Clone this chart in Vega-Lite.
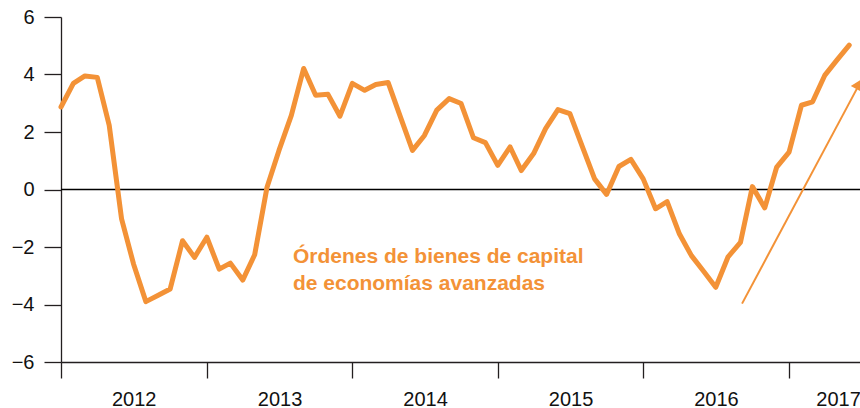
{
  "$schema": "https://vega.github.io/schema/vega-lite/v6.json",
  "width": 799,
  "height": 345,
  "autosize": {"type": "none"},
  "padding": {"left": 61, "top": 17, "right": 0, "bottom": 46},
  "config": {"view": {"stroke": null}, "font": "Liberation Sans"},
  "datasets": {
    "series": [
      {"date": "2012-01-01T00:00:00", "value": 2.87},
      {"date": "2012-02-01T00:00:00", "value": 3.69},
      {"date": "2012-03-01T00:00:00", "value": 3.95},
      {"date": "2012-04-01T00:00:00", "value": 3.9},
      {"date": "2012-05-01T00:00:00", "value": 2.23},
      {"date": "2012-06-01T00:00:00", "value": -1.02},
      {"date": "2012-07-01T00:00:00", "value": -2.59},
      {"date": "2012-08-01T00:00:00", "value": -3.9},
      {"date": "2012-09-01T00:00:00", "value": -3.68},
      {"date": "2012-10-01T00:00:00", "value": -3.46},
      {"date": "2012-11-01T00:00:00", "value": -1.78},
      {"date": "2012-12-01T00:00:00", "value": -2.36},
      {"date": "2013-01-01T00:00:00", "value": -1.66},
      {"date": "2013-02-01T00:00:00", "value": -2.77},
      {"date": "2013-03-01T00:00:00", "value": -2.56},
      {"date": "2013-04-01T00:00:00", "value": -3.15},
      {"date": "2013-05-01T00:00:00", "value": -2.27},
      {"date": "2013-06-01T00:00:00", "value": 0.08},
      {"date": "2013-07-01T00:00:00", "value": 1.36},
      {"date": "2013-08-01T00:00:00", "value": 2.58},
      {"date": "2013-09-01T00:00:00", "value": 4.21},
      {"date": "2013-10-01T00:00:00", "value": 3.28},
      {"date": "2013-11-01T00:00:00", "value": 3.31},
      {"date": "2013-12-01T00:00:00", "value": 2.55},
      {"date": "2014-01-01T00:00:00", "value": 3.69},
      {"date": "2014-02-01T00:00:00", "value": 3.45},
      {"date": "2014-03-01T00:00:00", "value": 3.65},
      {"date": "2014-04-01T00:00:00", "value": 3.72},
      {"date": "2014-05-01T00:00:00", "value": 2.55},
      {"date": "2014-06-01T00:00:00", "value": 1.36},
      {"date": "2014-07-01T00:00:00", "value": 1.88},
      {"date": "2014-08-01T00:00:00", "value": 2.76},
      {"date": "2014-09-01T00:00:00", "value": 3.16},
      {"date": "2014-10-01T00:00:00", "value": 2.99},
      {"date": "2014-11-01T00:00:00", "value": 1.8},
      {"date": "2014-12-01T00:00:00", "value": 1.63},
      {"date": "2015-01-01T00:00:00", "value": 0.84},
      {"date": "2015-02-01T00:00:00", "value": 1.48},
      {"date": "2015-03-01T00:00:00", "value": 0.66},
      {"date": "2015-04-01T00:00:00", "value": 1.25},
      {"date": "2015-05-01T00:00:00", "value": 2.12},
      {"date": "2015-06-01T00:00:00", "value": 2.78},
      {"date": "2015-07-01T00:00:00", "value": 2.64},
      {"date": "2015-08-01T00:00:00", "value": 1.5},
      {"date": "2015-09-01T00:00:00", "value": 0.37},
      {"date": "2015-10-01T00:00:00", "value": -0.17},
      {"date": "2015-11-01T00:00:00", "value": 0.8},
      {"date": "2015-12-01T00:00:00", "value": 1.05},
      {"date": "2016-01-01T00:00:00", "value": 0.37},
      {"date": "2016-02-01T00:00:00", "value": -0.67},
      {"date": "2016-03-01T00:00:00", "value": -0.42},
      {"date": "2016-04-01T00:00:00", "value": -1.55},
      {"date": "2016-05-01T00:00:00", "value": -2.3},
      {"date": "2016-06-01T00:00:00", "value": -2.85},
      {"date": "2016-07-01T00:00:00", "value": -3.4},
      {"date": "2016-08-01T00:00:00", "value": -2.34},
      {"date": "2016-09-01T00:00:00", "value": -1.84},
      {"date": "2016-10-01T00:00:00", "value": 0.1},
      {"date": "2016-11-01T00:00:00", "value": -0.64},
      {"date": "2016-12-01T00:00:00", "value": 0.78},
      {"date": "2017-01-01T00:00:00", "value": 1.3},
      {"date": "2017-02-01T00:00:00", "value": 2.93},
      {"date": "2017-03-01T00:00:00", "value": 3.05},
      {"date": "2017-04-01T00:00:00", "value": 3.98},
      {"date": "2017-05-01T00:00:00", "value": 4.5},
      {"date": "2017-06-01T00:00:00", "value": 5.02}
    ],
    "arrow": [{"date": "2016-09-05T00:00:00", "value": -3.97, "date2": "2017-06-20T00:00:00", "value2": 3.5}],
    "head": [{"date": "2017-06-24T00:00:00", "value": 3.66}],
    "labels": [
      {"date": "2013-08-05T00:00:00", "value": -2.54, "text": "Órdenes de bienes de capital"},
      {"date": "2013-08-05T00:00:00", "value": -3.48, "text": "de economías avanzadas"}
    ],
    "zero": [{"value": 0}]
  },
  "encoding": {
    "x": {
      "field": "date",
      "type": "temporal",
      "scale": {"domain": [{"year": 2012, "month": 1, "date": 1}, {"year": 2017, "month": 6, "date": 28}]},
      "axis": {
        "values": [{"year": 2012}, {"year": 2013}, {"year": 2014}, {"year": 2015}, {"year": 2016}, {"year": 2017}],
        "format": "%Y",
        "title": null,
        "grid": false,
        "tickSize": 16,
        "tickWidth": 1.3,
        "tickColor": "#231f20",
        "domainColor": "#231f20",
        "domainWidth": 1.3,
        "labelFontSize": 20,
        "labelColor": "#111111",
        "labelPadding": 11,
        "labelFlush": false,
        "labelOverlap": false,
        "labelOffset": {"condition": {"test": "year(datum.value) == 2017", "value": 49}, "value": 72.75}
      }
    },
    "y": {
      "field": "value",
      "type": "quantitative",
      "scale": {"domain": [-6, 6], "nice": false, "zero": false},
      "axis": {
        "values": [-6, -4, -2, 0, 2, 4, 6],
        "title": null,
        "grid": false,
        "tickSize": 17,
        "tickWidth": 1.3,
        "tickColor": "#231f20",
        "domainColor": "#231f20",
        "domainWidth": 1.3,
        "labelFontSize": 20,
        "labelColor": "#111111",
        "labelPadding": 10
      }
    }
  },
  "layer": [
    {
      "data": {"name": "zero"},
      "mark": {"type": "rule", "color": "#000000", "strokeWidth": 1.3},
      "encoding": {"x": null, "y": {"field": "value", "type": "quantitative"}}
    },
    {
      "data": {"name": "series"},
      "mark": {"type": "line", "color": "#F39237", "strokeWidth": 5, "strokeJoin": "round", "strokeCap": "round"}
    },
    {
      "data": {"name": "arrow"},
      "mark": {"type": "rule", "color": "#F39237", "strokeWidth": 2},
      "encoding": {
        "x2": {"field": "date2"},
        "y2": {"field": "value2"}
      }
    },
    {
      "data": {"name": "head"},
      "mark": {"type": "point", "shape": "triangle-up", "filled": true, "size": 140, "angle": 27.5, "color": "#F39237", "opacity": 1}
    },
    {
      "data": {"name": "labels"},
      "mark": {"type": "text", "align": "left", "baseline": "alphabetic", "fontSize": 21, "fontWeight": "bold", "color": "#F39237"},
      "encoding": {"text": {"field": "text"}}
    }
  ]
}
